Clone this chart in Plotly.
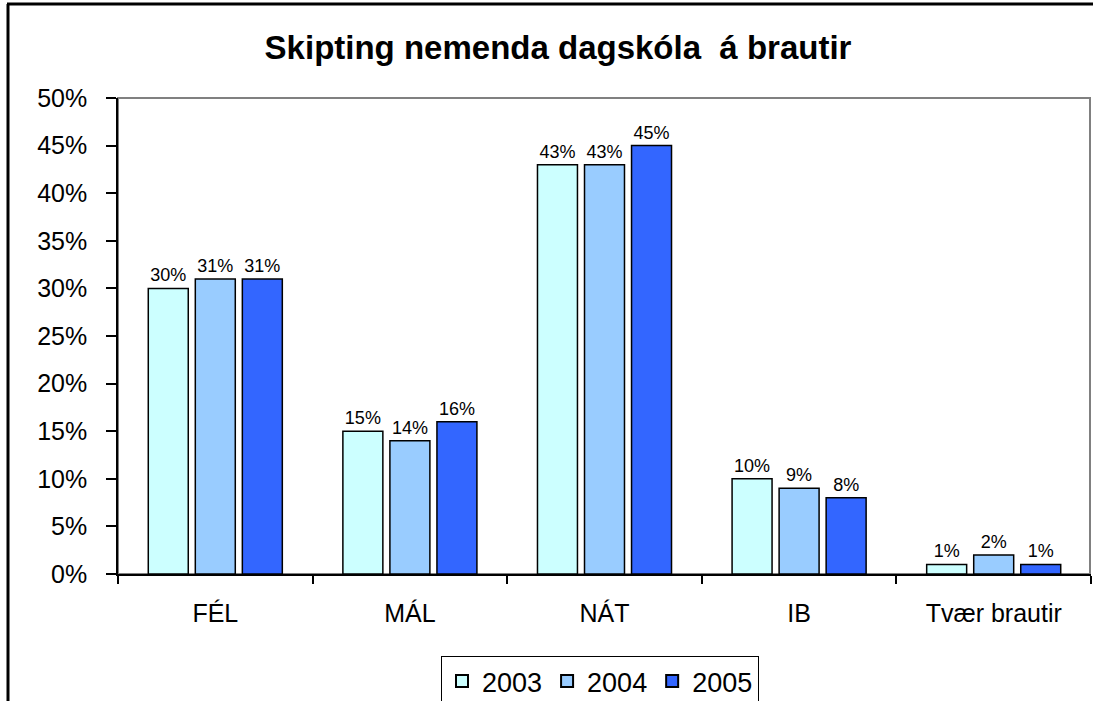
import plotly.graph_objects as go

categories = ["FÉL", "MÁL", "NÁT", "IB", "Tvær brautir"]
years = ["2003", "2004", "2005"]
values_2003 = [30, 15, 43, 10, 1]
values_2004 = [31, 14, 43, 9, 2]
values_2005 = [31, 16, 45, 8, 1]
colors = ["#CCFFFF", "#99CCFF", "#3366FF"]
title_text = "Skipting nemenda dagskóla  á brautir"

FONT = "Arial, Liberation Sans, sans-serif"

fig = go.Figure()
for name, vals, col in zip(years, [values_2003, values_2004, values_2005], colors):
    fig.add_trace(go.Bar(
        x=categories, y=vals, name=name,
        text=[f"{v}%" for v in vals], texttemplate="%{text}",
        textposition="outside", constraintext="none",
        marker=dict(color=col, line=dict(color="black", width=1.5)),
        textfont=dict(size=18, color="black", family=FONT),
        cliponaxis=False,
    ))

W, H = 1093, 701
ml, mr, mt, mb = 118, 2, 98, 127
pw, ph = W - ml - mr, H - mt - mb

def px(x):
    return (x - ml) / pw

def py(y):
    return (H - mb - y) / ph

fig.update_layout(
    width=W, height=H, autosize=False,
    margin=dict(l=ml, r=mr, t=mt, b=mb, pad=0, autoexpand=False),
    paper_bgcolor="white", plot_bgcolor="white",
    barmode="group", bargap=0.275, bargroupgap=0.15,
    font=dict(family=FONT, color="black"),
    title=dict(text="<b>" + title_text.replace("  ", " &nbsp;") + "</b>",
               x=558 / W, xref="container", xanchor="center",
               y=1 - 47 / H, yref="container", yanchor="middle",
               font=dict(size=33, family=FONT, color="black")),
    showlegend=True,
    legend=dict(orientation="h", x=px(600), xanchor="center", y=py(656), yanchor="top",
                bordercolor="black", borderwidth=1, bgcolor="white",
                font=dict(size=27, family=FONT, color="black"),
                itemsizing="constant", traceorder="normal",
                itemwidth=30),
    xaxis=dict(type="category", showline=True, linecolor="black", linewidth=1.5,
               ticks="outside", tickson="boundaries", ticklen=8, tickcolor="black", tickwidth=1.5,
               showgrid=False, tickfont=dict(size=25, family=FONT, color="black"),
               ticklabelstandoff=16),
    yaxis=dict(range=[0, 50], dtick=5, ticksuffix="%", showline=True, linecolor="black", linewidth=1.5,
               ticks="outside", ticklen=10, tickcolor="black", tickwidth=1.5,
               showgrid=False, zeroline=False, tickfont=dict(size=25, family=FONT, color="black"),
               ticklabelstandoff=14),
    shapes=[
        dict(type="rect", xref="paper", yref="paper", x0=0, x1=px(1090), y0=0, y1=1,
             line=dict(color="#808080", width=2), layer="below"),
        dict(type="line", xref="paper", yref="paper", x0=px(8), x1=px(8), y0=py(4), y1=py(705),
             line=dict(color="black", width=3)),
        dict(type="line", xref="paper", yref="paper", x0=px(7), x1=px(1096), y0=py(4), y1=py(4),
             line=dict(color="black", width=3)),
    ],
)

fig.write_html("out.html", config={"responsive": False, "displayModeBar": False},
               post_script="document.body.style.margin='0';document.body.style.overflow='hidden';")
